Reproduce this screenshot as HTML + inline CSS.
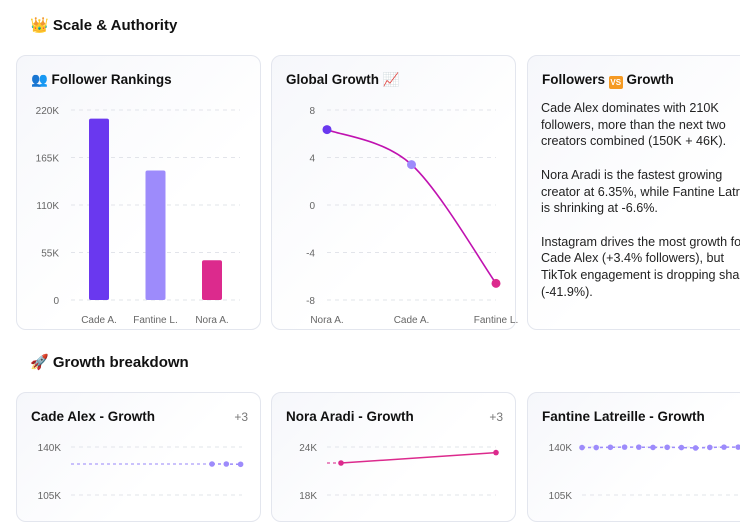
<!DOCTYPE html>
<html><head><meta charset="utf-8"><style>
body{margin:0;width:740px;height:504px;overflow:hidden;background:#fff;font-family:"Liberation Sans","Noto Sans CJK JP",sans-serif;color:#111;position:relative}
.h{position:absolute;left:30px;font-size:15px;font-weight:bold;color:#111}
.card{position:absolute;width:245px;border:1px solid #e3e6ee;border-radius:10px;background:linear-gradient(135deg,#f6f7fb,#fff 60%);box-sizing:border-box}
.t{position:absolute;left:14px;top:16px;font-size:13.5px;font-weight:bold;line-height:16px}
.vs{display:inline-block;background:#f59a23;color:#fff;font-size:8px;line-height:13px;width:14px;height:13px;text-align:center;border-radius:2px;vertical-align:-1px}
.p{position:absolute;left:13px;top:44px;width:260px;font-size:12.6px;line-height:16.7px;color:#222}
svg{position:absolute;left:0;top:0}
</style></head><body>
<div class="h" style="top:16px">👑 Scale &amp; Authority</div>
<div class="h" style="top:353px">🚀 Growth breakdown</div>

<div class="card" style="left:16px;top:55px;height:275px">
<div class="t">👥 Follower Rankings</div></div>
<div class="card" style="left:271px;top:55px;height:275px">
<div class="t">Global Growth 📈</div></div>
<div class="card" style="left:527px;top:55px;width:240px;height:275px;overflow:hidden">
<div class="t">Followers <span class="vs">VS</span> Growth</div>
<div class="p">Cade Alex dominates with 210K<br>followers, more than the next two<br>creators combined (150K + 46K).<br><br>Nora Aradi is the fastest growing<br>creator at 6.35%, while Fantine Latreille<br>is shrinking at -6.6%.<br><br>Instagram drives the most growth for<br>Cade Alex (+3.4% followers), but<br>TikTok engagement is dropping sharply<br>(-41.9%).</div></div>

<div class="card" style="left:16px;top:392px;height:130px">
<div class="t">Cade Alex - Growth</div>
<div style="position:absolute;right:12px;top:17px;font-size:12px;color:#777">+3</div></div>
<div class="card" style="left:271px;top:392px;height:130px">
<div class="t">Nora Aradi - Growth</div>
<div style="position:absolute;right:12px;top:17px;font-size:12px;color:#777">+3</div></div>
<div class="card" style="left:527px;top:392px;width:240px;height:130px">
<div class="t">Fantine Latreille - Growth</div></div>

<svg id="s" width="740" height="504"></svg>
<script>
const barCats=["Cade A.","Fantine L.","Nora A."];
const barVals=[210,150,46];
const barColors=["#6a38ef","#9d8bfb","#dc2a8d"];
const barTicks=[0,55,110,165,220];
const lineCats=["Nora A.","Cade A.","Fantine L."];
const lineVals=[6.35,3.4,-6.6];
const lineColors=["#6a38ef","#9d8bfb","#dc2a8d"];
const lineTicks=[-8,-4,0,4,8];
const cadeVals=[127.6,127.6,127.4];
const noraVals=[22,23.3];
const fantineVals=[139.6,139.6,139.8,139.9,139.9,139.7,139.8,139.6,139.3,139.7,139.9,139.9,139.9];

const S=document.getElementById('s'),NS="http://www.w3.org/2000/svg";
function el(t,a,p){const e=document.createElementNS(NS,t);for(const k in a)e.setAttribute(k,a[k]);(p||S).appendChild(e);return e;}
function txt(x,y,s,anc,name){const e=el('text',{x:x,y:y,'font-size':10,fill:'#666','text-anchor':anc,'font-family':'Liberation Sans,sans-serif'});e.textContent=s;

return e;}
function grid(x1,x2,y){const g=el('line',{x1:x1,x2:x2,y1:y,y2:y,stroke:'#e2e4ea','stroke-dasharray':'4 4'});

}

// bar chart
const by=v=>300-v/220*190, bx=i=>99+i*56.5;
barTicks.forEach(t=>{grid(71,240,by(t));txt(59,by(t)+4,t?t+'K':'0','end','y-tick-label');});
barVals.forEach((v,i)=>{const r=el('rect',{x:bx(i)-10,y:by(v),width:20,height:300-by(v),rx:2,fill:barColors[i]});


txt(bx(i),323,barCats[i],'middle','x-tick-label');});

// line chart
const ly=v=>205-v*11.875, lx=i=>327+i*84.5;
lineTicks.forEach(t=>{grid(327,496,ly(t));txt(315,ly(t)+4,String(t),'end','y-tick-label');});
const pts=lineVals.map((v,i)=>[lx(i),ly(v)]);
let d=`M${pts[0][0]},${pts[0][1]}`;
for(let i=0;i<pts.length-1;i++){const p0=pts[Math.max(0,i-1)],p1=pts[i],p2=pts[i+1],p3=pts[Math.min(pts.length-1,i+2)];
d+=` C${p1[0]+(p2[0]-p0[0])/6},${p1[1]+(p2[1]-p0[1])/6} ${p2[0]-(p3[0]-p1[0])/6},${p2[1]-(p3[1]-p1[1])/6} ${p2[0]},${p2[1]}`;}
const ln=el('path',{d:d,fill:'none',stroke:'#c012b0','stroke-width':1.6});


pts.forEach((p,i)=>{const c=el('circle',{cx:p[0],cy:p[1],r:4.5,fill:lineColors[i]});


txt(p[0],323,lineCats[i],'middle','x-tick-label');});

// small charts
function mini(x0,x1,hi,lo,labHi,labLo,vals,step,xStart,color,dashed,dashedHist){
 const y=v=>447+(hi-v)/(hi-lo)*48;
 grid(x0,x1,447);grid(x0,x1,495);
 txt(x0-10,451,labHi,'end','y-tick-label');txt(x0-10,499,labLo,'end','y-tick-label');
 const xs=vals.map((v,i)=>xStart+i*step);
 if(dashedHist){const dl=el('line',{x1:x0,x2:xs[0],y1:y(vals[0]),y2:y(vals[0]),stroke:color,'stroke-dasharray':'3 3','stroke-opacity':0.7,'stroke-width':1.5});
 
 }
 const pl=el('polyline',{points:vals.map((v,i)=>xs[i]+','+y(v)).join(' '),fill:'none',stroke:color,'stroke-width':1.5,'stroke-dasharray':dashed?'3 3':'none'});
 
 
 vals.forEach((v,i)=>{const c=el('circle',{cx:xs[i],cy:y(v),r:2.8,fill:color});
 
 });
}
mini(71,242,140,105,'140K','105K',cadeVals,14.3,212,'#9d8bfb',true,true);
mini(327,496,24,18,'24K','18K',noraVals,155,341,'#dc2a8d',false,true);
mini(582,740,140,105,'140K','105K',fantineVals,14.2,582,'#9d8bfb',true,false);
</script>
</body></html>
